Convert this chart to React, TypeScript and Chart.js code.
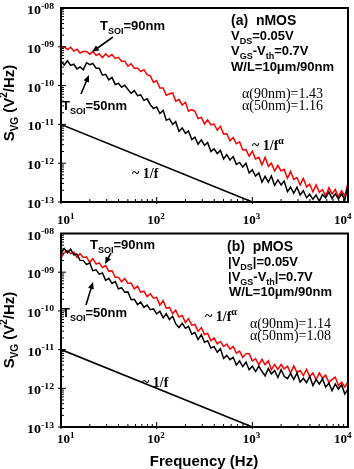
import { useEffect, useRef } from 'react';
import { Chart, registerables } from 'chart.js';

Chart.register(...registerables);

// Frequency bins of the measured spectra (Hz), 30 per decade
const freqHz = [
  10, 10.8, 11.7, 12.6, 13.6, 14.7, 15.8, 17.1, 18.5, 20, 21.5, 23.3, 25.1, 27.1, 29.3,
  31.6, 34.1, 36.9, 39.8, 43, 46.4, 50.1, 54.1, 58.4, 63.1, 68.1, 73.6, 79.4, 85.8, 92.6,
  100, 108, 117, 126, 136, 147, 158, 171, 185, 200, 215, 233, 251, 271, 293,
  316, 341, 369, 398, 430, 464, 501, 541, 584, 631, 681, 736, 794, 858, 926,
  1000, 1080, 1170, 1260, 1360, 1470, 1580, 1710, 1850, 2000, 2150, 2330, 2510, 2710, 2930,
  3160, 3410, 3690, 3980, 4300, 4640, 5010, 5410, 5840, 6310, 6810, 7360, 7940, 8580, 9260,
  10000,
];

// log10 of S_VG (V^2/Hz), nMOS, T_SOI = 90 nm
const nmos90Exp = [
  -9.03, -9.0, -9.07, -9.01, -9.11, -9.06, -9.16, -9.12, -9.12, -9.19,
  -9.12, -9.22, -9.18, -9.28, -9.18, -9.26, -9.2, -9.3, -9.27, -9.37,
  -9.37, -9.5, -9.44, -9.55, -9.55, -9.64, -9.59, -9.72, -9.75, -9.92,
  -9.87, -10.06, -10.06, -10.25, -10.21, -10.19, -10.4, -10.36, -10.5, -10.43,
  -10.66, -10.62, -10.66, -10.85, -10.82, -10.99, -10.88, -11.01, -10.99, -11.15,
  -11.05, -11.25, -11.24, -11.42, -11.34, -11.5, -11.45, -11.66, -11.65, -11.82,
  -11.69, -11.89, -11.85, -12.04, -11.85, -12.08, -12.0, -12.2, -12.06, -12.2,
  -12.16, -12.39, -12.21, -12.42, -12.37, -12.56, -12.39, -12.61, -12.54, -12.74,
  -12.56, -12.75, -12.68, -12.85, -12.63, -12.79, -12.68, -12.86, -12.71, -12.85,
  -12.5,
];

// log10 of S_VG (V^2/Hz), nMOS, T_SOI = 50 nm
const nmos50Exp = [
  -9.37, -9.47, -9.36, -9.48, -9.45, -9.57, -9.52, -9.59, -9.41, -9.46,
  -9.43, -9.55, -9.55, -9.73, -9.71, -9.85, -9.79, -9.97, -9.94, -10.04,
  -9.99, -10.1, -10.2, -10.13, -10.26, -10.24, -10.38, -10.34, -10.49, -10.59,
  -10.55, -10.72, -10.64, -10.89, -10.86, -11.0, -10.93, -11.18, -11.09, -11.23,
  -11.17, -11.39, -11.33, -11.51, -11.4, -11.54, -11.47, -11.7, -11.63, -11.75,
  -11.67, -11.89, -11.78, -11.92, -11.83, -12.03, -11.98, -12.1, -12.0, -12.25,
  -12.17, -12.33, -12.25, -12.49, -12.34, -12.49, -12.33, -12.57, -12.43, -12.56,
  -12.46, -12.73, -12.62, -12.77, -12.62, -12.82, -12.71, -12.89, -12.8, -12.93,
  -12.82, -12.98, -12.81, -12.89, -12.74, -12.91, -12.79, -12.92, -12.79, -12.95,
  -12.55,
];

// log10 of S_VG (V^2/Hz), pMOS, T_SOI = 90 nm
const pmos90Exp = [
  -8.62, -8.5, -8.44, -8.52, -8.48, -8.62, -8.52, -8.62, -8.61, -8.75,
  -8.65, -8.79, -8.76, -8.88, -8.83, -8.98, -8.96, -9.13, -9.13, -9.25,
  -9.16, -9.29, -9.28, -9.43, -9.36, -9.52, -9.49, -9.63, -9.56, -9.67,
  -9.65, -9.85, -9.73, -9.93, -9.91, -10.07, -9.98, -10.16, -10.12, -10.3,
  -10.2, -10.37, -10.35, -10.53, -10.43, -10.61, -10.58, -10.77, -10.7, -10.85,
  -10.79, -10.92, -10.86, -10.99, -10.92, -11.09, -11.04, -11.2, -11.11, -11.1,
  -11.29, -11.24, -11.39, -11.25, -11.39, -11.29, -11.52, -11.39, -11.51, -11.38,
  -11.5, -11.43, -11.61, -11.42, -11.59, -11.54, -11.67, -11.51, -11.7, -11.6,
  -11.78, -11.6, -11.74, -11.66, -11.85, -11.77, -11.71, -11.93, -11.84, -11.97,
  -11.83,
];

// log10 of S_VG (V^2/Hz), pMOS, T_SOI = 50 nm
const pmos50Exp = [
  -8.52, -8.39, -8.5, -8.4, -8.55, -8.53, -8.69, -8.7, -8.8, -8.76,
  -8.96, -8.94, -9.05, -9.02, -9.21, -9.16, -9.29, -9.24, -9.43, -9.4,
  -9.52, -9.51, -9.71, -9.7, -9.84, -9.77, -9.91, -9.85, -9.97, -9.95,
  -10.08, -10.01, -10.18, -10.07, -10.22, -10.14, -10.33, -10.43, -10.32, -10.45,
  -10.4, -10.6, -10.56, -10.74, -10.61, -10.81, -10.77, -10.96, -10.92, -11.07,
  -10.98, -11.23, -11.15, -11.26, -11.2, -11.4, -11.29, -11.44, -11.32, -11.52,
  -11.43, -11.57, -11.43, -11.56, -11.68, -11.49, -11.63, -11.54, -11.72, -11.52,
  -11.69, -11.75, -11.62, -11.77, -11.61, -11.84, -11.74, -11.85, -11.69, -11.93,
  -11.77, -11.89, -11.76, -11.97, -11.87, -12.06, -11.89, -12.02, -11.91, -12.15,
  -12.02,
];

// ~1/f guide line
const guideFreq = [10, 1000];
const guideSvg = [1e-11, 1e-13];

// Axis ticks
const xDecades = [1, 2, 3, 4];
const yDecades = [-8, -9, -10, -11, -12, -13];
const yTickSup = ['-08', '-09', '-10', '-11', '-12', '-13'];

// Fitted exponents: [90 nm, 50 nm]
const alphaNmos = [1.43, 1.16];
const alphaPmos = [1.14, 1.08];

const W = 354;
const H = 469;
const SANS = '"Liberation Sans", Arial, Helvetica, sans-serif';
const SERIF = '"Liberation Serif", "Times New Roman", Times, serif';
const RED = '#ff0000';

type Run = { t: string; k?: 'sub' | 'sup' };

function runFont(size: number, weight: string, family: string, k?: 'sub' | 'sup') {
  const s = k ? Math.round(size * 0.68) : size;
  return `${weight} ${s}px ${family}`;
}

function drawRuns(
  ctx: CanvasRenderingContext2D,
  runs: Run[],
  x: number,
  y: number,
  size: number,
  weight: string,
  family: string,
  align: 'left' | 'center' | 'right' = 'left',
  sx = 1,
) {
  let w = 0;
  for (const r of runs) {
    ctx.font = runFont(size, weight, family, r.k);
    w += ctx.measureText(r.t).width * sx;
  }
  let cx = align === 'left' ? x : align === 'center' ? x - w / 2 : x - w;
  ctx.save();
  ctx.textAlign = 'left';
  ctx.textBaseline = 'alphabetic';
  for (const r of runs) {
    ctx.font = runFont(size, weight, family, r.k);
    const dy = r.k === 'sub' ? size * 0.28 : r.k === 'sup' ? -size * 0.42 : 0;
    ctx.save();
    ctx.translate(cx, y + dy);
    ctx.scale(sx, 1);
    ctx.fillText(r.t, 0, 0);
    ctx.restore();
    cx += ctx.measureText(r.t).width * sx;
  }
  ctx.restore();
  return w;
}

function arrow(ctx: CanvasRenderingContext2D, x1: number, y1: number, x2: number, y2: number) {
  const ang = Math.atan2(y2 - y1, x2 - x1);
  const L = 7;
  const hw = 3;
  ctx.save();
  ctx.strokeStyle = '#000';
  ctx.fillStyle = '#000';
  ctx.lineWidth = 1.6;
  ctx.beginPath();
  ctx.moveTo(x1, y1);
  ctx.lineTo(x2 - Math.cos(ang) * (L - 1), y2 - Math.sin(ang) * (L - 1));
  ctx.stroke();
  ctx.beginPath();
  ctx.moveTo(x2, y2);
  ctx.lineTo(x2 - Math.cos(ang) * L - Math.sin(ang) * hw, y2 - Math.sin(ang) * L + Math.cos(ang) * hw);
  ctx.lineTo(x2 - Math.cos(ang) * L + Math.sin(ang) * hw, y2 - Math.sin(ang) * L - Math.cos(ang) * hw);
  ctx.closePath();
  ctx.fill();
  ctx.restore();
}

type Label = { runs: Run[]; x: number; y: number; size: number; font: 'sans' | 'serif' | 'serifBold' };

type PanelCfg = {
  top: number;
  bottom: number;
  red: number[];
  black: number[];
  xLabelBaseline: number;
  yTitleCenter: number;
  labels: Label[];
  arrows: number[][];
  freqTitle: boolean;
};

const tsoi = (nm: string): Run[] => [{ t: 'T' }, { t: 'SOI', k: 'sub' }, { t: `=${nm}nm` }];

const panelA: PanelCfg = {
  top: 8,
  bottom: 202,
  red: nmos90Exp,
  black: nmos50Exp,
  xLabelBaseline: 224,
  yTitleCenter: 103,
  labels: [
    { runs: [{ t: '(a)  nMOS' }], x: 231, y: 25, size: 14, font: 'sans' },
    { runs: [{ t: 'V' }, { t: 'DS', k: 'sub' }, { t: '=0.05V' }], x: 231, y: 40, size: 13, font: 'sans' },
    { runs: [{ t: 'V' }, { t: 'GS', k: 'sub' }, { t: '-V' }, { t: 'th', k: 'sub' }, { t: '=0.7V' }], x: 231, y: 55, size: 13, font: 'sans' },
    { runs: [{ t: 'W/L=10μm/90nm' }], x: 231, y: 71, size: 13, font: 'sans' },
    { runs: [{ t: `α(90nm)=${alphaNmos[0].toFixed(2)}` }], x: 242, y: 98, size: 14, font: 'serif' },
    { runs: [{ t: `α(50nm)=${alphaNmos[1].toFixed(2)}` }], x: 242, y: 110, size: 14, font: 'serif' },
    { runs: [{ t: '~ 1/f' }, { t: 'α', k: 'sup' }], x: 252, y: 150, size: 14, font: 'serifBold' },
    { runs: [{ t: '~ 1/f' }], x: 132, y: 178, size: 14, font: 'serifBold' },
    { runs: tsoi('90'), x: 100, y: 30, size: 13, font: 'sans' },
    { runs: tsoi('50'), x: 62, y: 110, size: 13, font: 'sans' },
  ],
  arrows: [
    [113, 37, 92, 52],
    [81, 94, 89, 75],
  ],
  freqTitle: false,
};

const panelB: PanelCfg = {
  top: 233.5,
  bottom: 427,
  red: pmos90Exp,
  black: pmos50Exp,
  xLabelBaseline: 443,
  yTitleCenter: 330,
  labels: [
    { runs: [{ t: '(b)  pMOS' }], x: 227, y: 251, size: 14, font: 'sans' },
    { runs: [{ t: '|V' }, { t: 'DS', k: 'sub' }, { t: '|=0.05V' }], x: 228, y: 266, size: 13, font: 'sans' },
    { runs: [{ t: '|V' }, { t: 'GS', k: 'sub' }, { t: '-V' }, { t: 'th', k: 'sub' }, { t: '|=0.7V' }], x: 228, y: 281, size: 13, font: 'sans' },
    { runs: [{ t: 'W/L=10μm/90nm' }], x: 229, y: 296, size: 13, font: 'sans' },
    { runs: [{ t: `α(90nm)=${alphaPmos[0].toFixed(2)}` }], x: 250, y: 328, size: 14, font: 'serif' },
    { runs: [{ t: `α(50nm)=${alphaPmos[1].toFixed(2)}` }], x: 250, y: 340, size: 14, font: 'serif' },
    { runs: [{ t: '~ 1/f' }, { t: 'α', k: 'sup' }], x: 205, y: 321, size: 14, font: 'serifBold' },
    { runs: [{ t: '~ 1/f' }], x: 142, y: 387, size: 14, font: 'serifBold' },
    { runs: tsoi('90'), x: 90, y: 249, size: 13, font: 'sans' },
    { runs: tsoi('50'), x: 62, y: 317, size: 13, font: 'sans' },
  ],
  arrows: [
    [111, 253, 105, 264],
    [86, 305, 93, 282],
  ],
  freqTitle: true,
};

function fontOf(l: Label): [string, string] {
  if (l.font === 'serif') return ['normal', SERIF];
  if (l.font === 'serifBold') return ['bold', SERIF];
  return ['bold', SANS];
}

function makeDecor(cfg: PanelCfg) {
  return {
    id: 'panelDecor',
    afterDraw(chart: Chart) {
      const ctx = chart.ctx;
      const a = chart.chartArea;
      const xs = chart.scales.x;
      const ys = chart.scales.y;
      ctx.save();
      ctx.fillStyle = '#000';
      ctx.strokeStyle = '#000';

      // frame
      ctx.lineWidth = 2;
      ctx.strokeRect(a.left, a.top, a.right - a.left, a.bottom - a.top);

      // inward ticks on left and bottom axes
      ctx.lineWidth = 1;
      ctx.beginPath();
      for (let e = -13; e < -8; e++) {
        for (let m = 1; m <= 9; m++) {
          const py = ys.getPixelForValue(m * 10 ** e);
          if (m === 1) {
            ctx.moveTo(a.left - 3, py);
            ctx.lineTo(a.left + 5, py);
          } else {
            ctx.moveTo(a.left, py);
            ctx.lineTo(a.left + 3, py);
          }
        }
      }
      for (let e = 1; e < 4; e++) {
        for (let m = 1; m <= 9; m++) {
          const px = xs.getPixelForValue(m * 10 ** e);
          if (m === 1) {
            ctx.moveTo(px, a.bottom + 2);
            ctx.lineTo(px, a.bottom - 5);
          } else {
            ctx.moveTo(px, a.bottom);
            ctx.lineTo(px, a.bottom - 3);
          }
        }
      }
      ctx.stroke();

      // y tick labels
      yDecades.forEach((e, i) => {
        const py = ys.getPixelForValue(10 ** e);
        drawRuns(ctx, [{ t: '10' }, { t: yTickSup[i], k: 'sup' }], 54, py + 6, 13, 'bold', SERIF, 'right', 1.08);
      });

      // x tick labels
      xDecades.forEach((e) => {
        const px = xs.getPixelForValue(10 ** e);
        const runs: Run[] = [{ t: '10' }, { t: String(e), k: 'sup' }];
        ctx.font = `bold 13px ${SERIF}`;
        const w = ctx.measureText('10').width + 6;
        let left = px - w / 2;
        left = Math.max(57, Math.min(left, W - 1 - w));
        drawRuns(ctx, runs, left, cfg.xLabelBaseline, 13, 'bold', SERIF, 'left');
      });

      // y title
      ctx.save();
      ctx.translate(13.5, cfg.yTitleCenter);
      ctx.rotate(-Math.PI / 2);
      drawRuns(
        ctx,
        [{ t: 'S' }, { t: 'VG', k: 'sub' }, { t: ' (V' }, { t: '2', k: 'sup' }, { t: '/Hz)' }],
        0,
        0,
        15,
        'bold',
        SANS,
        'center',
      );
      ctx.restore();

      if (cfg.freqTitle) {
        drawRuns(ctx, [{ t: 'Frequency (Hz)' }], 204, 466, 15, 'bold', SANS, 'center');
      }

      // annotations
      for (const l of cfg.labels) {
        const [wt, fam] = fontOf(l);
        drawRuns(ctx, l.runs, l.x, l.y, l.size, wt, fam, 'left');
      }
      for (const [x1, y1, x2, y2] of cfg.arrows) arrow(ctx, x1, y1, x2, y2);

      ctx.restore();
    },
  };
}

const toPoints = (exps: number[]) => exps.map((e, i) => ({ x: freqHz[i], y: 10 ** e }));

function Panel({ cfg }: { cfg: PanelCfg }) {
  const ref = useRef<HTMLCanvasElement>(null);
  useEffect(() => {
    const canvas = ref.current;
    if (!canvas) return;
    const line = { pointRadius: 0, tension: 0, borderJoinStyle: 'miter' as const, fill: false };
    const chart = new Chart(canvas, {
      type: 'line',
      data: {
        datasets: [
          { ...line, data: toPoints(cfg.black), borderColor: '#000', borderWidth: 1.5 },
          { ...line, data: toPoints(cfg.red), borderColor: RED, borderWidth: 1.5 },
          {
            ...line,
            data: guideFreq.map((f, i) => ({ x: f, y: guideSvg[i] })),
            borderColor: '#000',
            borderWidth: 1.6,
          },
        ],
      },
      options: {
        responsive: false,
        animation: false,
        events: [],
        layout: { padding: { left: 61, right: W - 348, top: cfg.top, bottom: H - cfg.bottom } },
        plugins: { legend: { display: false }, tooltip: { enabled: false } },
        scales: {
          x: { type: 'logarithmic', display: false, min: 10, max: 10000 },
          y: { type: 'logarithmic', display: false, min: 1e-13, max: 1e-8 },
        },
      },
      plugins: [makeDecor(cfg)],
    });
    return () => chart.destroy();
  }, [cfg]);
  return <canvas ref={ref} width={W} height={H} style={{ position: 'absolute', left: 0, top: 0 }} />;
}

export default function App() {
  return (
    <div
      style={{
        position: 'fixed',
        left: 0,
        top: 0,
        width: W,
        height: H,
        background: '#fff',
        overflow: 'hidden',
      }}
    >
      <Panel cfg={panelA} />
      <Panel cfg={panelB} />
    </div>
  );
}
